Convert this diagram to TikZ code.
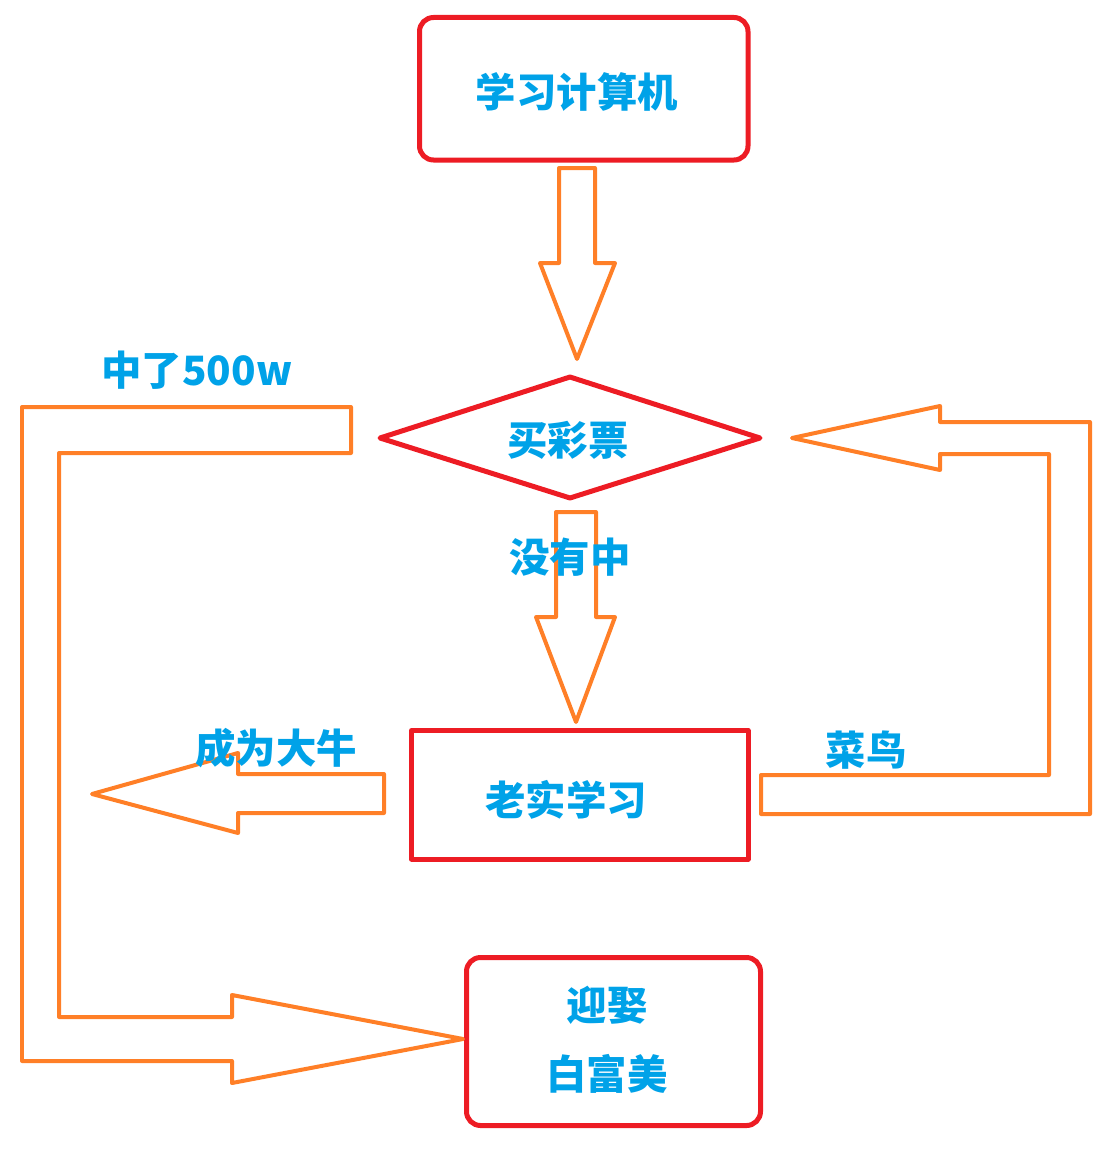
\documentclass[tikz,border=0pt]{standalone}
\usepackage{fontspec}
\newfontfamily\cjk{Noto Sans CJK SC}
\usetikzlibrary{positioning}
\definecolor{paintred}{RGB}{237,28,36}
\definecolor{paintorange}{RGB}{255,127,39}
\definecolor{paintblue}{RGB}{0,162,232}

\begin{document}
\begin{tikzpicture}[x=0.02cm,y=-0.02cm,
    box/.style={draw=paintred,line width=0.1cm,line join=round},
    flow/.style={draw=paintorange,line width=0.08cm,line join=round},
    lbl/.style={text=paintblue,inner sep=0pt,
        font=\cjk\bfseries\fontsize{23}{28}\selectfont}]
  \useasboundingbox (0,0) rectangle (1114,1149);

  % boxes
  \draw[box,rounded corners=0.28cm] (419.5,17.5) rectangle (748,160);
  \draw[box] (380,438) -- (570,377) -- (760,438) -- (570,498) -- cycle;
  \draw[box] (411.5,730.5) rectangle (748,859);
  \draw[box,rounded corners=0.28cm] (466.5,957.5) rectangle (760.5,1125.5);

  % straight arrows down
  \foreach \l/\r/\t/\n/\hl/\hr/\tx/\ty in {559/595/168/263/540/615/577/359,
      556/596/512/617/536/615/576/722} {
      \draw[flow] (\l,\t) -- (\r,\t) -- (\r,\n) -- (\hr,\n)
        -- (\tx,\ty) -- (\hl,\n) -- (\l,\n) -- cycle;
    }

  % arrow to the left
  \draw[flow] (384,774) -- (384,813) -- (238,813) -- (238,833)
    -- (92,794) -- (238,753) -- (238,774) -- cycle;

  % loop back to the lottery
  \draw[flow] (761,775) -- (1049,775) -- (1049,454) -- (940,454)
    -- (940,470) -- (792,438) -- (940,406) -- (940,422)
    -- (1090,422) -- (1090,814) -- (761,814) -- cycle;

  % loop down to the last box
  \draw[flow] (351,407) -- (22,407) -- (22,1061) -- (232,1061)
    -- (232,1083) -- (463,1039) -- (232,995) -- (232,1017)
    -- (59,1017) -- (59,453) -- (351,453) -- cycle;

  % texts
  \node[lbl] (study) at (577,92) {学习计算机};
  \node[lbl] (lotto) at (568,440) {买彩票};
  \node[lbl] (miss) at (570,557) {没有中};
  \node[lbl] (work) at (566,800) {老实学习};
  \node[lbl] (win) at (197,370) {中了500w};
  \node[lbl] (expert) at (276,748) {成为大牛};
  \node[lbl] (rookie) at (866,750) {菜鸟};
  \node[lbl] (marry) at (607,1005) {迎娶};
  \node[lbl,below=0.58cm of marry.south,anchor=north] (bride) {白富美};
\end{tikzpicture}
\end{document}
